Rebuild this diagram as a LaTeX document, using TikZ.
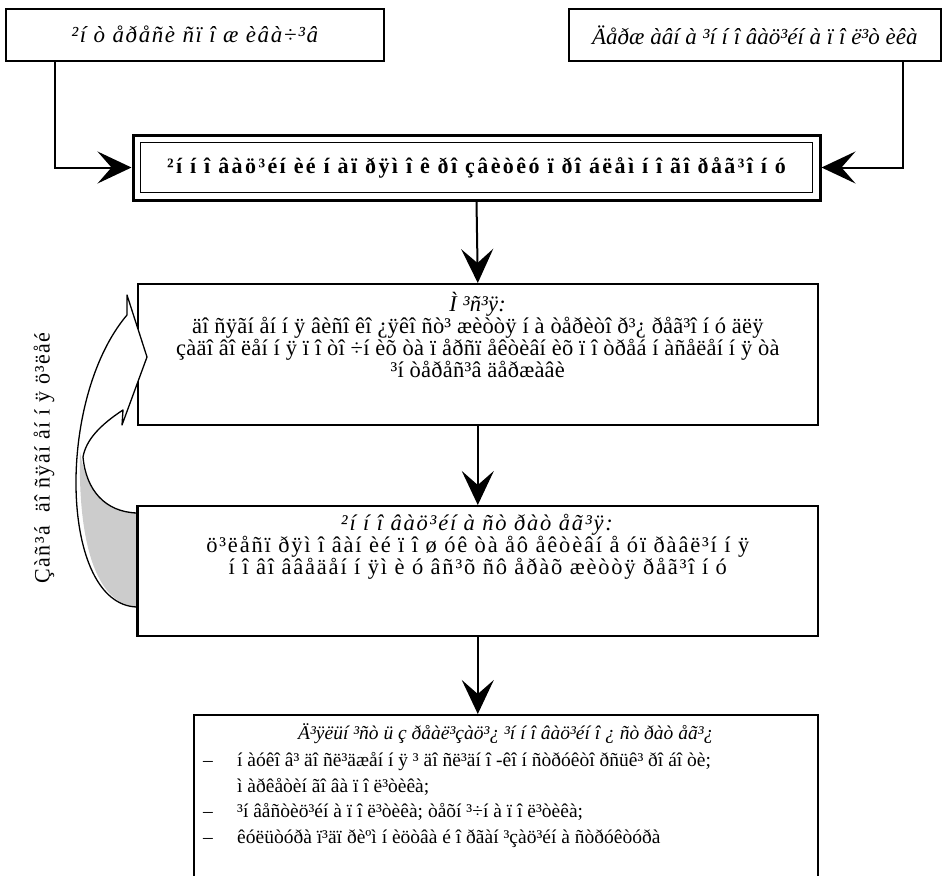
\documentclass[tikz,border=0pt]{standalone}
\usepackage{fontspec}
\setmainfont{Liberation Serif}
\usetikzlibrary{arrows.meta}
\newcommand{\lidash}{\makebox[34pt][l]{–}}
\newcommand{\linone}{\hspace*{34pt}}
\begin{document}
\begin{tikzpicture}[x=1pt,y=-1pt,
  box/.style={draw, line width=1.6pt, rectangle, inner sep=0pt},
  arr/.style={line width=2pt,-{Stealth[length=34pt,width=32pt,inset=14pt]}},
  txt/.style={font=\fontsize{22.5}{21}\selectfont\addfontfeature{LetterSpace=1}, align=center, inner sep=0pt},
  txtb/.style={txt, font=\fontsize{22.5}{21}\selectfont\addfontfeature{LetterSpace=8}},
  tltxt/.style={txt, font=\fontsize{23}{23}\selectfont\itshape\addfontfeature{LetterSpace=7}},
  trtxt/.style={txt, font=\fontsize{23}{23}\selectfont\itshape\addfontfeature{LetterSpace=0}},
  boldtxt/.style={txt, font=\fontsize{22}{22}\selectfont\bfseries\addfontfeature{LetterSpace=11}},
  titletxt/.style={txt, font=\fontsize{19.5}{19.5}\selectfont\itshape},
  listtxt/.style={txt, align=left, font=\fontsize{19.5}{25.7}\selectfont},
  sidetxt/.style={txt, font=\fontsize{22}{22}\selectfont\addfontfeature{LetterSpace=6}}]
\useasboundingbox (0,0) rectangle (946,876);
\clip (0,0) rectangle (946,876);

% top boxes
\node[box, tltxt, minimum width=378pt, minimum height=52pt, anchor=north west] (tl) at (5,8) {²í ò åðåñè ñï î æ èâà÷³â};
\node[box, trtxt, minimum width=372pt, minimum height=52pt, anchor=north west] (tr) at (568,8) {Äåðæ àâí à ³í í î âàö³éí à ï î ë³ò èêà};

% double-bordered box
\node[draw, line width=3pt, minimum width=687pt, minimum height=65pt, inner sep=0pt] (db) at (476.5,167.5) {};
\node[draw, line width=1.6pt, minimum width=672pt, minimum height=50pt, inner sep=0pt, boldtxt] (dbi) at (db.center) {²í í î âàö³éí èé í àï ðÿì î ê ðî çâèòêó ï ðî áëåì í î ãî ðåã³î í ó};

% box 3
\node[box, minimum width=680pt, minimum height=141pt, anchor=north west] (b3) at (137,283) {};
\node[txt, anchor=north, yshift=-9pt] (t3) at (b3.north) {\textit{Ì ³ñ³ÿ:}\\
äî ñÿãí åí í ÿ âèñî êî ¿ÿêî ñò³ æèòòÿ í à òåðèòî ð³¿ ðåã³î í ó äëÿ\\
çàäî âî ëåí í ÿ ï î òî ÷í èõ òà ï åðñï åêòèâí èõ ï î òðåá í àñåëåí í ÿ òà\\
³í òåðåñ³â äåðæàâè};

% box 4
\node[box, minimum width=680pt, minimum height=130pt, anchor=north west] (b4) at (137,505) {};
\node[txtb, anchor=north, yshift=-9pt] (t4) at (b4.north) {\textit{²í í î âàö³éí à ñò ðàò åã³ÿ:}\\
ö³ëåñï ðÿì î âàí èé ï î ø óê òà åô åêòèâí å óï ðàâë³í í ÿ\\
í î âî ââåäåí í ÿì è ó âñ³õ ñô åðàõ æèòòÿ ðåã³î í ó};

% box 5
\node[box, minimum width=624pt, minimum height=200pt, anchor=north west] (b5) at (193,714) {};
\node[titletxt, anchor=north, yshift=-9pt] (t5) at (b5.north) {Ä³ÿëüí ³ñò ü ç ðåàë³çàö³¿ ³í í î âàö³éí î ¿ ñò ðàò åã³¿};
\node[listtxt, anchor=north west] (t5r) at (203,752) {\lidash í àóêî â³ äî ñë³äæåí í ÿ ³ äî ñë³äí î -êî í ñòðóêòî ðñüê³ ðî áî òè;\\
\linone ì àðêåòèí ãî âà ï î ë³òèêà;\\
\lidash ³í âåñòèö³éí à ï î ë³òèêà; òåõí ³÷í à ï î ë³òèêà;\\
\lidash êóëüòóðà ï³äï ðèºì í èöòâà é î ðãàí ³çàö³éí à ñòðóêòóðà};

% connectors
\coordinate (lx) at (55,60);
\coordinate (rx) at (903,60);
\draw[arr] (lx) |- (db.west);
\draw[arr] (rx) |- (db.east);
\draw[arr] (db.south) -- (b3.north);
\draw[arr] (b3.south) -- (b4.north);
\draw[arr] (b4.south) -- (b4.south |- b5.north);

% curved arrow
\fill[white] (137,607) .. controls (60,605) and (55,400) .. (127,315) -- (127,295) -- (147,357) -- (122,425) -- (123,410)
  .. controls (100,425) and (86,440) .. (83,457) .. controls (86,490) and (105,512) .. (137,513) -- cycle;
\fill[black!20] (80,452) .. controls (78,540) and (95,604) .. (137,607) -- (137,513) .. controls (105,512) and (86,490) .. (80,452) -- cycle;
\draw[line width=1.3pt, line join=round] (137,607) .. controls (60,605) and (55,400) .. (127,315) -- (127,295) -- (147,357) -- (122,425) -- (123,410)
  .. controls (100,425) and (86,440) .. (83,457) .. controls (86,490) and (105,512) .. (137,513);
\draw[line width=1.6pt] (b4.north west) -- (b4.south west);

% side label
\node[sidetxt, rotate=90] (side) at (44,458) {Çàñ³á \ äî ñÿãí åí í ÿ ö³ëåé};
\end{tikzpicture}
\end{document}
